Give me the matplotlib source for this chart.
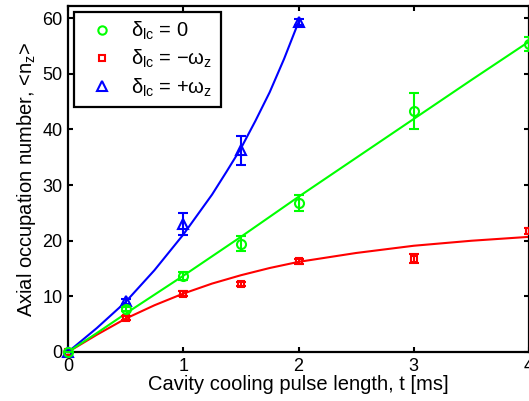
import numpy as np
import matplotlib
matplotlib.use('Agg')
import matplotlib.pyplot as plt
from matplotlib.lines import Line2D

plt.rcParams['font.family'] = ['Liberation Sans', 'DejaVu Sans']
plt.rcParams['mathtext.fontset'] = 'custom'
plt.rcParams['mathtext.rm'] = 'Liberation Sans'
plt.rcParams['mathtext.it'] = 'Liberation Sans:italic'

# measured points
t_pts = [0, 0.5, 1, 1.5, 2, 3, 4]
n_zero = [0, 7.7, 13.7, 19.5, 26.8, 43.3, 55.4]
err_zero = [0, 0.4, 0.7, 1.3, 1.5, 3.2, 1.3]
n_minus = [0, 6.1, 10.5, 12.2, 16.3, 16.8, 21.8]
err_minus = [0, 0.4, 0.4, 0.4, 0.4, 0.8, 0.5]
t_plus = [0, 0.5, 1, 1.5, 2]
n_plus = [0, 9.1, 23.0, 36.3, 59.3]
err_plus = [0, 0.5, 1.9, 2.6, 0.6]

# fitted curves
t_fit = [0, 0.25, 0.5, 0.75, 1, 1.25, 1.5, 1.75, 2, 2.5, 3, 3.5, 4]
fit_zero = [0, 3.4, 6.9, 10.3, 13.7, 17.2, 20.7, 24.3, 27.9, 34.9, 41.9, 48.9, 55.8]
fit_minus = [0, 3.1, 6.0, 8.4, 10.5, 12.3, 13.8, 15.1, 16.2, 17.8, 19.1, 20.0, 20.7]
t_fit_plus = [0, 0.25, 0.5, 0.75, 1, 1.25, 1.375, 1.5, 1.625, 1.75, 1.875, 2]
fit_plus = [0, 4.3, 9.0, 14.7, 21.1, 28.3, 32.4, 36.6, 41.5, 46.7, 52.7, 59.3]

labels = ['δ$_{\\rm lc}$ = 0', 'δ$_{\\rm lc}$ = −ω$_{\\rm z}$', 'δ$_{\\rm lc}$ = +ω$_{\\rm z}$']

fig = plt.figure(figsize=(5.29, 4.01), dpi=100)
ax = fig.add_axes([68 / 529, 49 / 401, 461 / 529, 346 / 401])

ax.plot(t_fit, fit_minus, color='red', lw=1.5, zorder=2)
ax.plot(t_fit_plus, fit_plus, color='blue', lw=1.5, zorder=2)
ax.plot(t_fit, fit_zero, color='#00ff00', lw=1.5, zorder=2)

common = dict(ls='none', mew=1.5, elinewidth=1.5, capsize=3.5, capthick=1.5, clip_on=False)
ax.errorbar(t_pts, n_minus, yerr=err_minus, fmt='s', color='red', ms=5,
            mfc='none', zorder=3, **common)
ax.errorbar(t_plus, n_plus, yerr=err_plus, fmt='^', color='blue', ms=7,
            mfc='none', zorder=3, **common)
ax.errorbar(t_pts, n_zero, yerr=err_zero, fmt='o', color='#00ff00', ms=6.5,
            mfc='none', zorder=4, **common)

ax.set_xlim(0, 4)
ax.set_ylim(0, 62.2)
ax.set_xticks([0, 1, 2, 3, 4])
ax.set_yticks([0, 10, 20, 30, 40, 50, 60])
ax.tick_params(direction='in', length=3.5, width=1.5, top=True, right=True,
               labelsize=13, pad=4)
for sp in ax.spines.values():
    sp.set_linewidth(1.6)

ax.set_xlabel('Cavity cooling pulse length, t [ms]', fontsize=14.5, labelpad=0)
ax.set_ylabel('Axial occupation number, <n$_{\\rm z}$>', fontsize=14.5, labelpad=3)

handles = [
    Line2D([], [], ls='none', marker='o', ms=6, mfc='none', mec='#00ff00', mew=1.5),
    Line2D([], [], ls='none', marker='s', ms=5, mfc='none', mec='red', mew=1.5),
    Line2D([], [], ls='none', marker='^', ms=6.5, mfc='none', mec='blue', mew=1.5),
]
leg = ax.legend(handles, labels, loc='upper left',
                bbox_to_anchor=(0.013, 0.9835), borderaxespad=0, fontsize=14.5,
                frameon=True, fancybox=False, edgecolor='black', framealpha=1,
                handlelength=2.0, handletextpad=0.45, labelspacing=0.3,
                borderpad=0.4)
leg.get_frame().set_linewidth(1.6)

fig.savefig('out.png', dpi=100)
